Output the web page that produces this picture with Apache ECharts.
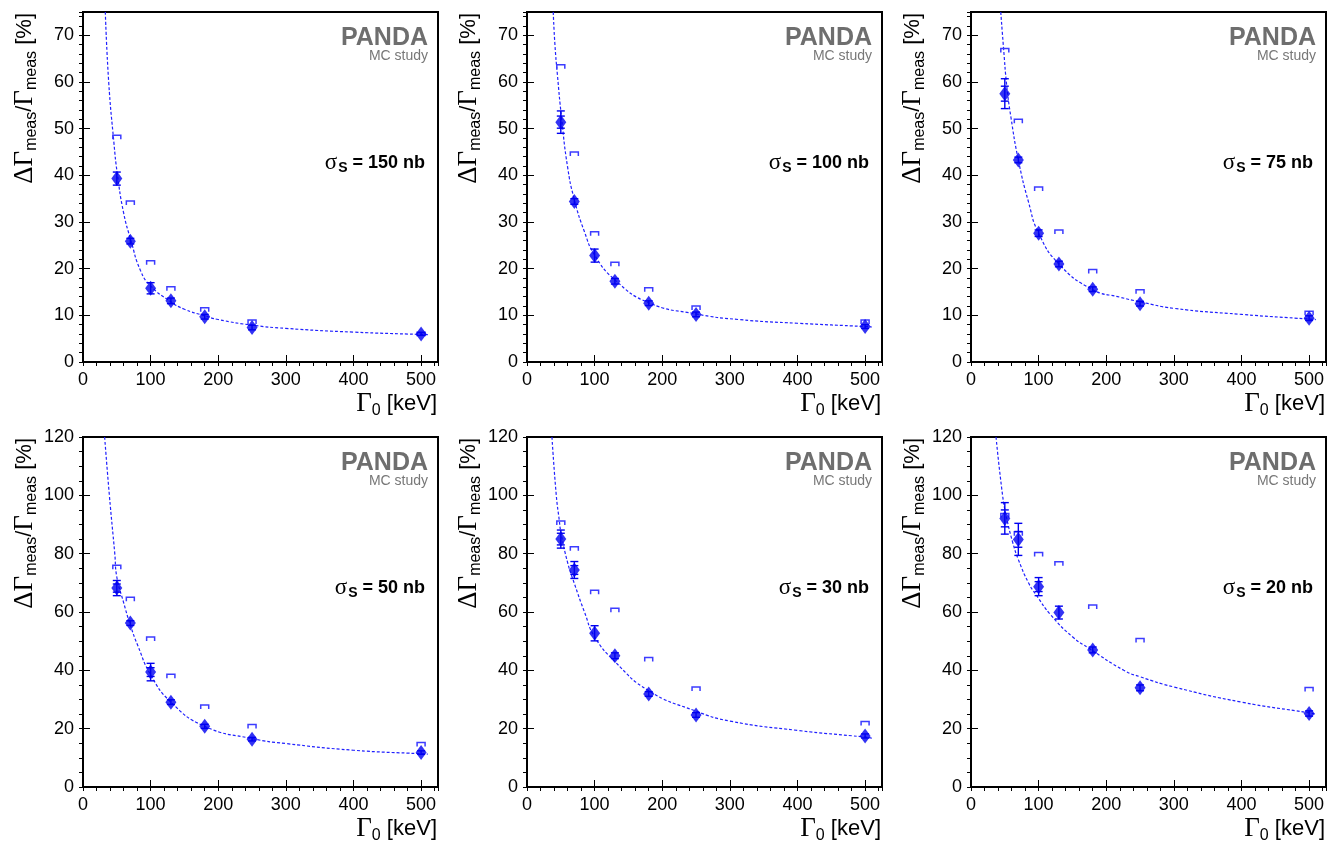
<!DOCTYPE html>
<html>
<head>
<meta charset="utf-8">
<title>PANDA MC study - width resolution</title>
<script src="https://cdn.jsdelivr.net/npm/echarts@6.0.0/dist/echarts.min.js"></script>
<style>
  html, body { margin: 0; padding: 0; background: #fff; }
  #chart { width: 1338px; height: 843px; }
</style>
</head>
<body>
<div id="chart"></div>
<script>
// Gamma_0 values (keV) used in every panel
const gammaX = [50, 70, 100, 130, 180, 250, 500];

// sigma_S = 150 nb
const meas150 = [39.3, 25.9, 15.8, 13.1, 9.7, 7.4, 6.0];
const err150 = [1.4, 0.6, 1.2, 0.6, 0.5, 0.5, 0.3];
const errIn150 = [0, 0, 0, 0, 0, 0, 0];
const upper150 = [48.6, 34.5, 21.7, 16.1, 11.6, 9.0, 6.4];
const fitX150 = [33, 38, 45.7, 50.6, 60, 71, 85, 100, 130, 150, 180, 200, 250, 300, 400, 500, 510];
const fitY150 = [75, 60, 47, 40.5, 32, 26.0, 19.6, 16.3, 12.9, 11.3, 9.9, 9.1, 7.9, 7.2, 6.4, 5.9, 5.85];

// sigma_S = 100 nb
const meas100 = [51.4, 34.4, 22.8, 17.3, 12.6, 10.2, 7.6];
const err100 = [2.4, 0.6, 1.4, 0.6, 0.5, 0.5, 0.4];
const errIn100 = [1.3, 0, 0, 0, 0, 0, 0];
const upper100 = [63.7, 45.0, 27.9, 21.4, 15.9, 12.0, 9.0];
const fitX100 = [38.8, 41.3, 45, 51, 60, 70, 85, 100, 130, 180, 250, 313, 400, 500, 510];
const fitY100 = [75, 68, 61.5, 52.5, 41.8, 34.8, 27.9, 22.9, 17.6, 12.7, 10.3, 9.1, 8.3, 7.6, 7.5];

// sigma_S = 75 nb
const meas75 = [57.5, 43.3, 27.6, 21.0, 15.6, 12.5, 9.4];
const err75 = [3.2, 0.6, 0.7, 0.6, 0.5, 0.5, 0.5];
const errIn75 = [1.6, 0, 0, 0, 0, 0, 0];
const upper75 = [67.2, 52.0, 37.5, 28.3, 19.8, 15.5, 10.9];
const fitX75 = [44, 48, 53, 59, 70, 85, 100, 130, 180, 220, 250, 300, 400, 500, 510];
const fitY75 = [75, 67.5, 59, 52.5, 43.3, 34.3, 27.6, 21, 15.5, 13.9, 12.9, 11.5, 10.2, 9.2, 9.1];

// sigma_S = 50 nb
const meas50 = [68.2, 56.2, 39.4, 29.1, 20.8, 16.4, 11.8];
const err50 = [2.6, 0.8, 3.0, 0.8, 0.7, 0.6, 0.6];
const errIn50 = [1.4, 0, 1.5, 0, 0, 0, 0];
const upper50 = [76.0, 65.1, 51.4, 38.7, 28.1, 21.4, 15.3];
const fitX50 = [32, 39, 47, 50, 60, 70, 81, 100, 130, 180, 250, 300, 400, 500, 510];
const fitY50 = [120, 100, 80, 72, 63.3, 55.5, 48.5, 38.5, 29.1, 20.8, 16.6, 14.9, 12.6, 11.4, 11.3];

// sigma_S = 30 nb
const meas30 = [85.0, 74.4, 52.7, 45.0, 31.9, 24.7, 17.5];
const err30 = [3.1, 2.9, 2.6, 1.0, 0.8, 0.8, 0.7];
const errIn30 = [2.0, 1.5, 0, 0, 0, 0, 0];
const upper30 = [91.2, 82.4, 67.5, 61.3, 44.4, 34.3, 22.5];
const fitX30 = [36.9, 43.3, 47.7, 50, 60, 70, 85, 100, 130, 180, 250, 300, 400, 500, 510];
const fitY30 = [120, 100, 91.5, 87.5, 77, 69.8, 60, 51.5, 43, 33, 26, 22.6, 19.4, 17.1, 16.7];

// sigma_S = 20 nb
const meas20 = [92.1, 84.9, 68.7, 59.8, 47.0, 34.0, 25.2];
const err20 = [5.4, 5.5, 3.1, 2.2, 1.0, 1.0, 0.9];
const errIn20 = [2.9, 2.7, 1.7, 0, 0, 0, 0];
const upper20 = [93.8, 87.5, 80.4, 77.2, 62.4, 50.9, 34.1];
const fitX20 = [37, 46.7, 52, 61.5, 70, 85, 96, 118, 150, 175, 226, 250, 300, 400, 500, 510];
const fitY20 = [120, 100, 93, 84, 78, 70, 66, 59, 51.5, 47.5, 40, 37.8, 34.3, 29.1, 25.4, 24.9];

const sigmaLabels = ['150', '100', '75', '50', '30', '20'];

const panels = [
  { meas: meas150, err: err150, errIn: errIn150, upper: upper150, fitX: fitX150, fitY: fitY150, ymax: 75, yStep: 10, yMinor: 2 },
  { meas: meas100, err: err100, errIn: errIn100, upper: upper100, fitX: fitX100, fitY: fitY100, ymax: 75, yStep: 10, yMinor: 2 },
  { meas: meas75, err: err75, errIn: errIn75, upper: upper75, fitX: fitX75, fitY: fitY75, ymax: 75, yStep: 10, yMinor: 2 },
  { meas: meas50, err: err50, errIn: errIn50, upper: upper50, fitX: fitX50, fitY: fitY50, ymax: 120, yStep: 20, yMinor: 5 },
  { meas: meas30, err: err30, errIn: errIn30, upper: upper30, fitX: fitX30, fitY: fitY30, ymax: 120, yStep: 20, yMinor: 5 },
  { meas: meas20, err: err20, errIn: errIn20, upper: upper20, fitX: fitX20, fitY: fitY20, ymax: 120, yStep: 20, yMinor: 5 }
];

// layout of the 2x3 pads
const colLeft = [83, 527, 971];
const rowTop = [12, 437];
const plotW = 355;
const plotH = 350;
const xMax = 525;

const SANS = '"Liberation Sans", Arial, Helvetica, sans-serif';
const SERIF = '"Liberation Serif", "Times New Roman", serif';
const MARK = '#0000f0';

const chart = echarts.init(document.getElementById('chart'));

function renderErr (params, api) {
  const x = api.value(0);
  const y = api.value(1);
  const e = api.value(2);
  const ei = api.value(3);
  const top = api.coord([x, y + e]);
  const bot = api.coord([x, y - e]);
  const hw = 4;
  const st = { stroke: MARK, lineWidth: 1.4 };
  const kids = [
    { type: 'line', shape: { x1: top[0], y1: top[1], x2: bot[0], y2: bot[1] }, style: st },
    { type: 'line', shape: { x1: top[0] - hw, y1: top[1], x2: top[0] + hw, y2: top[1] }, style: st },
    { type: 'line', shape: { x1: bot[0] - hw, y1: bot[1], x2: bot[0] + hw, y2: bot[1] }, style: st }
  ];
  if (ei > 0) {
    const t2 = api.coord([x, y + ei]);
    const b2 = api.coord([x, y - ei]);
    kids.push({ type: 'line', shape: { x1: t2[0] - hw, y1: t2[1], x2: t2[0] + hw, y2: t2[1] }, style: st });
    kids.push({ type: 'line', shape: { x1: b2[0] - hw, y1: b2[1], x2: b2[0] + hw, y2: b2[1] }, style: st });
  }
  return { type: 'group', children: kids };
}

function renderBracket (params, api) {
  const p = api.coord([api.value(0), api.value(1)]);
  const hw = 4;
  return {
    type: 'polyline',
    shape: { points: [[p[0] - hw, p[1] + 4], [p[0] - hw, p[1]], [p[0] + hw, p[1]], [p[0] + hw, p[1] + 4]] },
    style: { stroke: '#3c3cff', lineWidth: 1.5, fill: null }
  };
}

const grids = [];
const xAxes = [];
const yAxes = [];
const series = [];
const graphics = [];

panels.forEach((p, i) => {
  const gx = colLeft[i % 3];
  const gy = rowTop[Math.floor(i / 3)];
  grids.push({ left: gx, top: gy, width: plotW, height: plotH, show: true, borderColor: '#000', borderWidth: 2, backgroundColor: '#fff' });

  // major axis: labels + long ticks
  xAxes.push({
    gridIndex: i, type: 'value', min: 0, max: xMax, interval: 100,
    axisLine: { show: true, onZero: false, lineStyle: { color: '#000', width: 2 } },
    axisTick: { inside: true, length: 7, lineStyle: { color: '#000', width: 1 } },
    axisLabel: { color: '#000', fontSize: 18, fontFamily: SANS, margin: 9, formatter: v => (v % 100 === 0 ? String(v) : '') },
    splitLine: { show: false }
  });
  // minor ticks
  xAxes.push({
    gridIndex: i, type: 'value', min: 0, max: xMax, interval: 20,
    axisLine: { show: false },
    axisTick: { inside: true, length: 4, lineStyle: { color: '#000', width: 1 } },
    axisLabel: { show: false },
    splitLine: { show: false }
  });
  yAxes.push({
    gridIndex: i, type: 'value', min: 0, max: p.ymax, interval: p.yStep,
    axisLine: { show: true, onZero: false, lineStyle: { color: '#000', width: 2 } },
    axisTick: { inside: true, length: 7, lineStyle: { color: '#000', width: 1 } },
    axisLabel: { color: '#000', fontSize: 18, fontFamily: SANS, margin: 9, formatter: v => (v % p.yStep === 0 ? String(v) : '') },
    splitLine: { show: false }
  });
  yAxes.push({
    gridIndex: i, type: 'value', min: 0, max: p.ymax, interval: p.yMinor,
    axisLine: { show: false },
    axisTick: { inside: true, length: 4, lineStyle: { color: '#000', width: 1 } },
    axisLabel: { show: false },
    splitLine: { show: false }
  });

  const ax = 2 * i;
  series.push({
    type: 'line', xAxisIndex: ax, yAxisIndex: ax,
    data: p.fitX.map((x, k) => [x, p.fitY[k]]),
    showSymbol: false, smooth: 0.5, clip: true,
    lineStyle: { color: '#2020ff', width: 1.2, type: [3, 2] },
    z: 2, silent: true
  });
  series.push({
    type: 'custom', xAxisIndex: ax, yAxisIndex: ax,
    data: gammaX.map((x, k) => [x, p.upper[k]]),
    renderItem: renderBracket, encode: { x: 0, y: 1 }, z: 3, silent: true
  });
  series.push({
    type: 'custom', xAxisIndex: ax, yAxisIndex: ax,
    data: gammaX.map((x, k) => [x, p.meas[k], p.err[k], p.errIn[k]]),
    renderItem: renderErr, encode: { x: 0, y: 1 }, z: 4, silent: true
  });
  series.push({
    type: 'scatter', xAxisIndex: ax, yAxisIndex: ax,
    data: gammaX.map((x, k) => [x, p.meas[k]]),
    symbol: 'diamond', symbolSize: [11, 15],
    itemStyle: { color: MARK }, z: 5, silent: true
  });

  // pad texts
  graphics.push({
    type: 'text', x: gx + 345, y: gy + 26, z: 10,
    style: { text: 'PANDA', font: 'bold 25px ' + SANS, fill: '#6e6e6e', align: 'right', verticalAlign: 'middle' }
  });
  graphics.push({
    type: 'text', x: gx + 345, y: gy + 44, z: 10,
    style: { text: 'MC study', font: '14px ' + SANS, fill: '#777', align: 'right', verticalAlign: 'middle' }
  });
  graphics.push({
    type: 'text', x: gx + 342, y: gy + 151, z: 10,
    style: {
      text: '{sig|σ}{sub|S}{b| = ' + sigmaLabels[i] + ' nb}',
      align: 'right', verticalAlign: 'middle', fill: '#000',
      rich: {
        sig: { fontFamily: SERIF, fontSize: 23, fill: '#000' },
        sub: { fontFamily: SANS, fontWeight: 'bold', fontSize: 14, padding: [10, 0, 0, 1], fill: '#000' },
        b: { fontFamily: SANS, fontWeight: 'bold', fontSize: 18, fill: '#000' }
      }
    }
  });
  graphics.push({
    type: 'text', x: gx - 58, y: gy + 1, rotation: Math.PI / 2, z: 10,
    style: {
      text: '{g|ΔΓ}{s|meas}{n|/}{g|Γ}{s|meas}{n| [%]}',
      align: 'right', verticalAlign: 'middle', fill: '#000',
      rich: {
        g: { fontFamily: SERIF, fontSize: 27, fill: '#000' },
        s: { fontFamily: SANS, fontSize: 16, padding: [13, 0, 0, 0], fill: '#000' },
        n: { fontFamily: SANS, fontSize: 22, fill: '#000' }
      }
    }
  });
  graphics.push({
    type: 'text', x: gx + 354, y: gy + plotH + 42, z: 10,
    style: {
      text: '{g|Γ}{s|0}{n| [keV]}',
      align: 'right', verticalAlign: 'middle', fill: '#000',
      rich: {
        g: { fontFamily: SERIF, fontSize: 27, fill: '#000' },
        s: { fontFamily: SANS, fontSize: 16, padding: [13, 0, 0, 0], fill: '#000' },
        n: { fontFamily: SANS, fontSize: 22, fill: '#000' }
      }
    }
  });
});

chart.setOption({
  backgroundColor: '#fff',
  animation: false,
  grid: grids,
  xAxis: xAxes,
  yAxis: yAxes,
  series: series,
  graphic: graphics
});
</script>
</body>
</html>
